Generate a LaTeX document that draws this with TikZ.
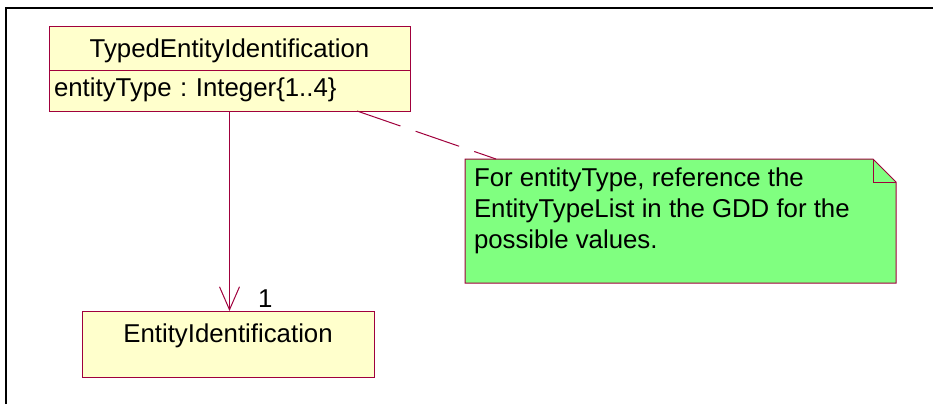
\documentclass[tikz,border=0pt]{standalone}
\usepackage{fontspec}
\newfontfamily\umlsans{Liberation Sans}
\newcommand*{\umlfont}{\umlsans\fontsize{25.8}{31}\selectfont\frenchspacing}
\definecolor{classfill}{RGB}{255,255,204}
\definecolor{notefill}{RGB}{128,255,128}
\definecolor{umlline}{RGB}{160,0,60}
\usepackage{tikz}
\usetikzlibrary{arrows.meta}
\usetikzlibrary{positioning}
\tikzstyle{base}=[x=1pt, y=-1pt, inner sep=0pt, outer sep=0pt]
\tikzstyle{classbox}=[draw=umlline, fill=classfill, line width=1pt, minimum width=361pt]
\tikzstyle{classtitle}=[classbox, text height=22.6pt, text depth=5pt, inner ysep=7.7pt]
\tikzstyle{classattr}=[classbox, text width=351pt, align=left, inner xsep=5pt, text height=20.7pt, text depth=8.3pt, inner ysep=6pt]
\tikzstyle{notebox}=[minimum width=431pt, minimum height=124pt]
\tikzstyle{noteline}=[draw=umlline, line width=1pt]
\tikzstyle{assoc}=[umlline, line width=1pt, -{Straight Barb[length=23pt, width=20pt]}]
\tikzstyle{anchorline}=[umlline, line width=1pt, dash pattern=on 46pt off 16pt]

\begin{document}
\begin{tikzpicture}[base]
    \umlfont
        \useasboundingbox (0,0) rectangle (933,404);
        \draw [black, line width=2pt] (6.3,404) |- (933,7.7);
        % classes
        \node [classtitle] (tei) at (229.5,48.5) {TypedEntityIdentification};
        \node [classattr, below=0pt of tei] (attr) {entityType : Integer\{1..4\}};
        \node [classbox, minimum width=292pt, text height=23.7pt, text depth=26.3pt, inner ysep=8pt] (ei) at (228,344) {EntityIdentification};
        % note
        \node [notebox] (note) at (680.5,221) {};
        \draw [noteline, fill=notefill] (note.north west) -- ([xshift=-23pt]note.north east) -- ([yshift=-23pt]note.north east) -- (note.south east) -- (note.south west) -- cycle;
        \draw [noteline] ([xshift=-23pt]note.north east) |- ([yshift=-23pt]note.north east);
        \node [anchor=north west, align=left] (notetext) at (474,168.2) {For entityType, reference the\\EntityTypeList in the GDD for the\\possible values.};
        % connectors
        \draw [assoc] (attr.south) -- (attr.south |- ei.north);
        \node [anchor=base west] (mult) at (258,307) {1};
        \draw [anchorline] ([xshift=-53pt]attr.south east) -- ([xshift=31pt]note.north west);
    \end{tikzpicture}
\end{document}
